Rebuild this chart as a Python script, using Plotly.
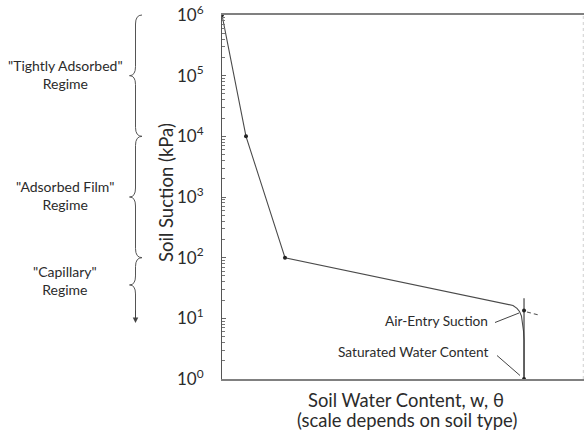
import plotly.graph_objects as go

# ---------------- data ----------------
# Soil-water characteristic curve (x: relative water content, y: suction kPa)
curve_w = [0.0, 0.0663, 0.174, 0.790, 0.8039, 0.8149, 0.8218, 0.8273, 0.8306, 0.8329, 0.8343, 0.8343]
curve_s = [1e6, 1e4, 100, 17.4, 16.3, 14.6, 13.0, 10.9, 8.4, 6.2, 4.4, 1.0]

point_w = [0.0, 0.0663, 0.174, 0.8343, 0.8343]
point_s = [1e6, 1e4, 100, 13.4, 1.0]

sat_line_w = [0.8343, 0.8343]
sat_line_s = [1.0, 21.4]

tangent_w = [0.8425, 0.8757]
tangent_s = [12.7, 11.35]

y_tickvals = [1, 10, 100, 1000, 10000, 100000, 1000000]
y_ticktext = ["10<sup>0</sup>", "10<sup>1</sup>", "10<sup>2</sup>", "10<sup>3</sup>",
              "10<sup>4</sup>", "10<sup>5</sup>", "10<sup>6</sup>"]

regime_labels = ['"Tightly Adsorbed"<br>Regime', '"Adsorbed Film"<br>Regime', '"Capillary"<br>Regime']
regime_top = [6, 4, 2]        # log10 of suction at top of regime
regime_bottom = [4, 2, 1.55]  # log10 at bottom / tip

# ---------------- layout helpers ----------------
W, H = 584, 442
L, R, T, B = 222, 0, 15, 63
PW = W - L - R
PH = H - T - B
NDEC = 6.0


def px(xp):
    return (xp - L) / PW


def py(yp):
    return (H - B - yp) / PH


def dec(lg):
    return lg / NDEC


FONT = "Lato, 'Open Sans', sans-serif"
TXT = "#2b2b2b"
LINE = "#4a4a4a"

fig = go.Figure()

fig.add_trace(go.Scatter(x=curve_w, y=curve_s, mode="lines",
                         line=dict(color=LINE, width=1.1), hoverinfo="skip"))
fig.add_trace(go.Scatter(x=sat_line_w, y=sat_line_s, mode="lines",
                         line=dict(color="#333", width=1.1), hoverinfo="skip"))
fig.add_trace(go.Scatter(x=tangent_w, y=tangent_s, mode="lines",
                         line=dict(color="#555", width=1.1, dash="4px,3px"), hoverinfo="skip"))
fig.add_trace(go.Scatter(x=point_w, y=point_s, mode="markers",
                         marker=dict(color="#222", size=4), hoverinfo="skip"))

shapes = []
annotations = []

# braces (paper coordinates)
xs, xe, xt = px(135.5), px(142), px(129.5)
d = 9 / PH
for i, lab in enumerate(regime_labels):
    top, bot = dec(regime_top[i]), dec(regime_bottom[i])
    if i < 2:
        mid = (top + bot) / 2
        path = (f"M {xe},{top} Q {xs},{top} {xs},{top - d} "
                f"L {xs},{mid + d} Q {xs},{mid} {xt},{mid} "
                f"Q {xs},{mid} {xs},{mid - d} "
                f"L {xs},{bot + d} Q {xs},{bot} {xe},{bot}")
        ytxt = mid + 0.004
    else:
        mid = bot
        arrow_end = py(323)
        path = (f"M {xe},{top} Q {xs},{top} {xs},{top - d} "
                f"L {xs},{mid + d} Q {xs},{mid} {xt},{mid} "
                f"Q {xs},{mid} {xs},{mid - d} "
                f"L {xs},{arrow_end + 6 / PH}")
        ytxt = mid + 0.012
        annotations.append(dict(x=xs, y=arrow_end, xref="paper", yref="paper", text="",
                                showarrow=True, arrowhead=2, arrowsize=1.1, arrowwidth=1,
                                arrowcolor="#444", ax=0, ay=-14))
    shapes.append(dict(type="path", path=path, xref="paper", yref="paper",
                       line=dict(color="#555", width=1)))
    annotations.append(dict(x=px(65), y=ytxt, xref="paper", yref="paper", text=lab,
                            showarrow=False, font=dict(family=FONT, size=14, color=TXT),
                            align="center", xanchor="center", yanchor="middle"))

# leader lines
shapes.append(dict(type="line", xref="paper", yref="paper", x0=px(495), y0=py(322.5),
                   x1=px(519), y1=py(313), line=dict(color="#444", width=1)))
shapes.append(dict(type="line", xref="paper", yref="paper", x0=px(497), y0=py(355.5),
                   x1=px(520), y1=py(375.5), line=dict(color="#444", width=1)))

annotations.append(dict(x=px(490), y=py(320), xref="paper", yref="paper", text="Air-Entry Suction",
                        showarrow=False, xanchor="right", yanchor="middle",
                        font=dict(family=FONT, size=13.7, color=TXT)))
annotations.append(dict(x=px(491), y=py(351.7), xref="paper", yref="paper", text="Saturated Water Content",
                        showarrow=False, xanchor="right", yanchor="middle",
                        font=dict(family=FONT, size=13.7, color=TXT)))

# axis titles
annotations.append(dict(x=px(166), y=py(193), xref="paper", yref="paper", text="Soil Suction (kPa)",
                        showarrow=False, textangle=-90, xanchor="center", yanchor="middle",
                        font=dict(family=FONT, size=18.5, color=TXT)))
annotations.append(dict(x=px(406), y=py(399.5), xref="paper", yref="paper",
                        text="Soil Water Content, w, θ", showarrow=False,
                        xanchor="center", yanchor="middle",
                        font=dict(family=FONT, size=18.4, color=TXT)))
annotations.append(dict(x=px(406.5), y=py(420), xref="paper", yref="paper",
                        text="(scale depends on soil type)", showarrow=False,
                        xanchor="center", yanchor="middle",
                        font=dict(family=FONT, size=18.4, color=TXT)))

# faint right border
shapes.append(dict(type="line", xref="paper", yref="paper", x0=0.998, x1=0.998, y0=0, y1=1,
                   line=dict(color="#cfcfcf", width=1, dash="dot")))

minor_vals = [m * 10 ** e for e in range(0, 6) for m in range(2, 10)]

fig.update_layout(
    width=W, height=H,
    margin=dict(l=L, r=R, t=T, b=B),
    paper_bgcolor="white", plot_bgcolor="white",
    showlegend=False,
    shapes=shapes, annotations=annotations,
    xaxis=dict(range=[0, 1], showline=True, linecolor="#808080", linewidth=1.5,
               mirror=True, showgrid=False, zeroline=False, showticklabels=False,
               ticks=""),
    yaxis=dict(type="log", range=[0, 6], showline=True, linecolor="#555", linewidth=1,
               showgrid=False, zeroline=False,
               tickmode="array", tickvals=y_tickvals, ticktext=y_ticktext,
               ticks="inside", ticklen=4, tickcolor="#666", tickwidth=1,
               ticklabelstandoff=14,
               tickfont=dict(family=FONT, size=17, color=TXT),
               minor=dict(tickmode="array", tickvals=minor_vals, ticks="inside",
                          ticklen=3, tickcolor="#777", tickwidth=1, showgrid=False)),
)

fig.write_html("out.html")
